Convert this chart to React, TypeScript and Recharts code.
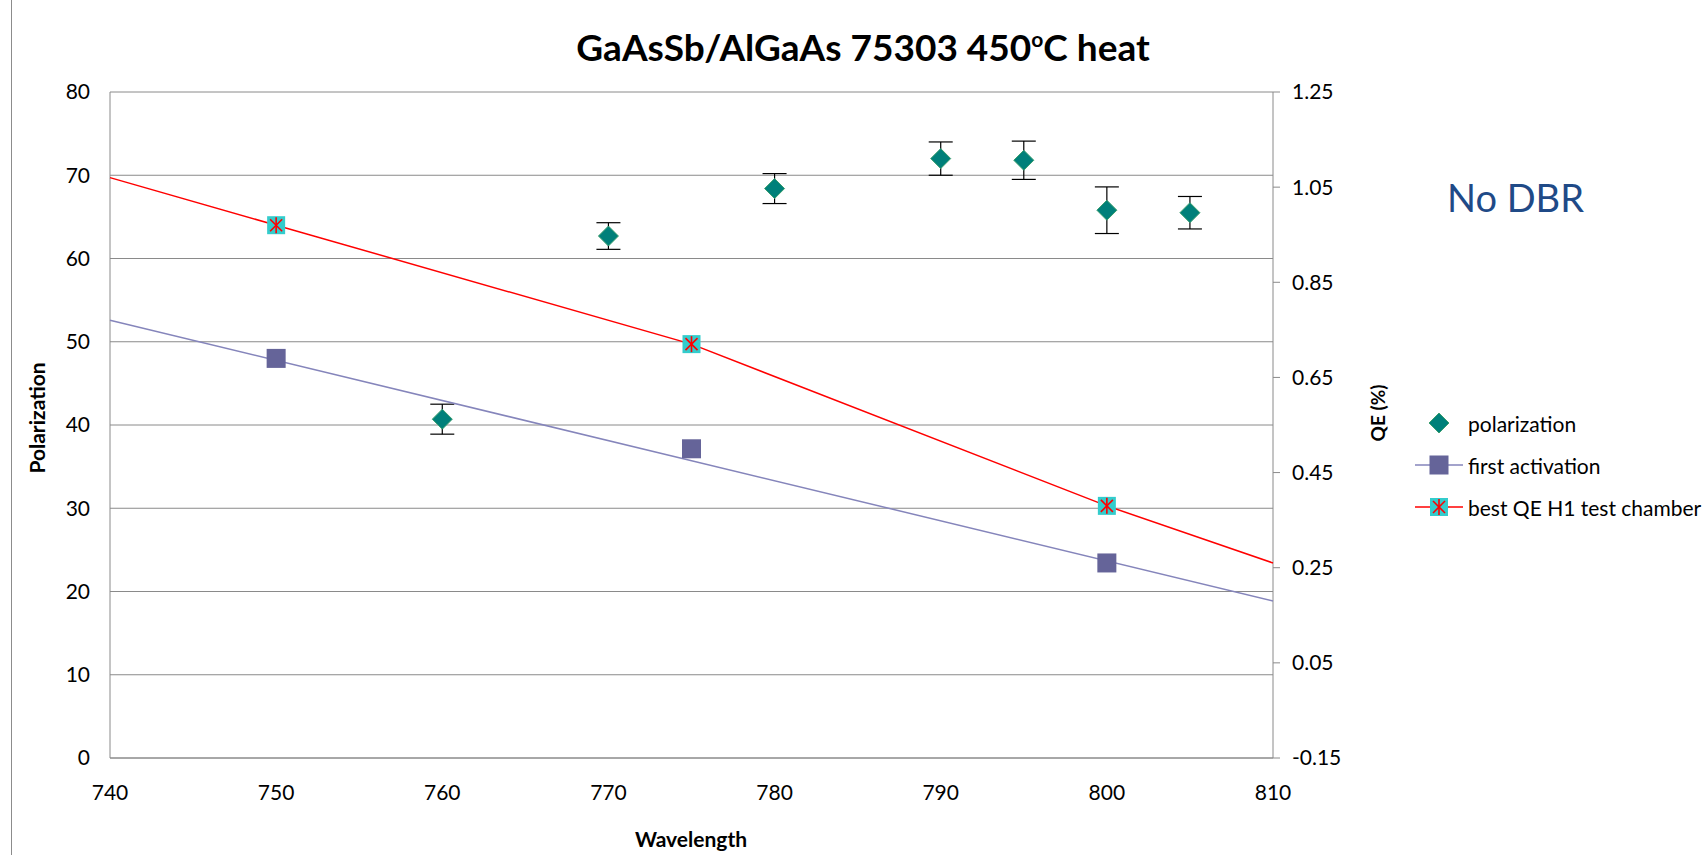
import React from 'react';
import { ComposedChart, Scatter, XAxis, YAxis, CartesianGrid, ErrorBar } from 'recharts';

// axis ticks
const wavelengthTicks = [740, 750, 760, 770, 780, 790, 800, 810];
const polarizationTicks = [0, 10, 20, 30, 40, 50, 60, 70, 80];
const qeTicks = [-0.15, 0.05, 0.25, 0.45, 0.65, 0.85, 1.05, 1.25];

// polarization measurements (left axis)
const polWavelength = [760, 770, 780, 790, 795, 800, 805];
const polarization = [40.7, 62.7, 68.4, 72.0, 71.8, 65.8, 65.5];
const polError = [1.8, 1.6, 1.8, 2.0, 2.3, 2.8, 1.95];

// QE measurements (right axis)
const qeWavelength = [750, 775, 800];
const firstActivation = [0.69, 0.5, 0.26];
const bestQE = [0.97, 0.72, 0.38];

// line values at the ends of the wavelength range (740, 810)
const firstTrendEnds = [0.77, 0.18];
const bestQEEnds = [1.07, 0.26];

const polData = polWavelength.map((x, i) => ({ x, y: polarization[i], err: polError[i] }));
const firstData = qeWavelength.map((x, i) => ({ x, y: firstActivation[i] }));
const bestData = qeWavelength.map((x, i) => ({ x, y: bestQE[i] }));
const firstTrend = [
  { x: 740, y: firstTrendEnds[0] },
  { x: 810, y: firstTrendEnds[1] },
];
const bestLine = [{ x: 740, y: bestQEEnds[0] }, ...bestData, { x: 810, y: bestQEEnds[1] }];

const FONT = 'Lato, "Liberation Sans", sans-serif';
const TEAL = '#00807a';
const PURPLE = '#656499';
const TREND = '#8585bb';
const RED = '#ff0000';
const CYAN = '#33cccc';

const Diamond = ({ cx, cy }: any) => (
  <path
    d={`M${cx},${cy - 10} L${cx + 10},${cy} L${cx},${cy + 10} L${cx - 10},${cy} Z`}
    fill={TEAL}
    stroke="#3a9e6e"
    strokeWidth={1}
  />
);

const Square = ({ cx, cy }: any) => (
  <rect x={cx - 9.5} y={cy - 9.5} width={19} height={19} fill={PURPLE} />
);

const StarBox = ({ cx, cy }: any) => (
  <g>
    <rect x={cx - 9} y={cy - 9} width={18} height={18} fill={CYAN} />
    <g stroke={RED} strokeWidth={1.6}>
      <line x1={cx - 6} y1={cy - 6} x2={cx + 6} y2={cy + 6} />
      <line x1={cx + 6} y1={cy - 6} x2={cx - 6} y2={cy + 6} />
      <line x1={cx} y1={cy - 8} x2={cx} y2={cy + 8} />
    </g>
  </g>
);

const NoMarker = () => <g />;

const legendItems = [
  { name: 'polarization', line: null, Marker: Diamond },
  { name: 'first activation', line: TREND, Marker: Square },
  { name: 'best QE H1 test chamber', line: RED, Marker: StarBox },
];
const legendRows = [423, 465, 507];

const axisTitle: React.CSSProperties = {
  position: 'absolute',
  fontWeight: 700,
  whiteSpace: 'nowrap',
  color: '#000',
};

const App: React.FC = () => {
  return (
    <div
      style={{
        position: 'absolute',
        left: 0,
        top: 0,
        width: 1708,
        height: 855,
        background: '#fff',
        overflow: 'hidden',
        fontFamily: FONT,
      }}
    >
      <div style={{ position: 'absolute', left: 11, top: 0, width: 0, height: 855, borderLeft: '1px solid #8c8c8c' }} />

      <ComposedChart
        width={1708}
        height={855}
        margin={{ top: 92, right: 335, bottom: 37, left: 10 }}
      >
        <CartesianGrid yAxisId="left" vertical={false} stroke="#8a8a8a" strokeWidth={1} />
        <XAxis
          type="number"
          dataKey="x"
          domain={[740, 810]}
          ticks={wavelengthTicks}
          interval={0}
          height={60}
          axisLine={{ stroke: '#8a8a8a' }}
          tickLine={false}
          tickSize={0}
          tickMargin={27}
          tick={{ fill: '#000', fontSize: 21, fontFamily: FONT }}
        />
        <YAxis
          yAxisId="left"
          type="number"
          dataKey="y"
          domain={[0, 80]}
          ticks={polarizationTicks}
          interval={0}
          width={100}
          axisLine={{ stroke: '#8a8a8a' }}
          tickLine={false}
          tickSize={0}
          tickMargin={20}
          tick={{ fill: '#000', fontSize: 21, fontFamily: FONT }}
        />
        <YAxis
          yAxisId="right"
          orientation="right"
          type="number"
          dataKey="y"
          domain={[-0.15, 1.25]}
          allowDataOverflow
          ticks={qeTicks}
          interval={0}
          width={100}
          axisLine={{ stroke: '#8a8a8a' }}
          tickLine={{ stroke: '#8a8a8a' }}
          tickSize={7}
          tickMargin={12}
          tickFormatter={(v: number) => v.toFixed(2)}
          tick={{ fill: '#000', fontSize: 21, fontFamily: FONT }}
        />

        <Scatter
          yAxisId="right"
          data={firstTrend}
          line={{ stroke: TREND, strokeWidth: 1.5 }}
          shape={NoMarker}
          isAnimationActive={false}
        />
        <Scatter
          yAxisId="right"
          data={bestLine}
          line={{ stroke: RED, strokeWidth: 1.5 }}
          shape={NoMarker}
          isAnimationActive={false}
        />
        <Scatter yAxisId="left" data={polData} shape={Diamond} isAnimationActive={false}>
          <ErrorBar dataKey="err" direction="y" width={12} stroke="#000" strokeWidth={1.2} />
        </Scatter>
        <Scatter yAxisId="right" data={firstData} shape={Square} isAnimationActive={false} />
        <Scatter yAxisId="right" data={bestData} shape={StarBox} isAnimationActive={false} />
      </ComposedChart>

      <div
        style={{
          ...axisTitle,
          left: 863,
          top: 46,
          transform: 'translate(-50%, -50%)',
          fontSize: 37,
        }}
      >
        GaAsSb/AlGaAs 75303 450
        <span style={{ fontSize: 21, position: 'relative', top: -14 }}>o</span>C heat
      </div>

      <div
        style={{
          position: 'absolute',
          left: 1447,
          top: 197,
          transform: 'translateY(-50%)',
          fontSize: 38,
          color: '#1f4a87',
          whiteSpace: 'nowrap',
        }}
      >
        No DBR
      </div>

      <div style={{ ...axisTitle, left: 36, top: 418, transform: 'translate(-50%, -50%) rotate(-90deg)', fontSize: 21 }}>
        Polarization
      </div>
      <div style={{ ...axisTitle, left: 1377, top: 413, transform: 'translate(-50%, -50%) rotate(-90deg)', fontSize: 19 }}>
        QE (%)
      </div>
      <div style={{ ...axisTitle, left: 691, top: 838, transform: 'translate(-50%, -50%)', fontSize: 21 }}>
        Wavelength
      </div>

      {legendItems.map((item, i) => {
        const cy = legendRows[i];
        return (
          <div
            key={item.name}
            style={{ position: 'absolute', left: 1413, top: cy - 14, height: 28, display: 'flex', alignItems: 'center' }}
          >
            <svg width={52} height={28} style={{ display: 'block' }}>
              {item.line && <line x1={2} y1={14} x2={50} y2={14} stroke={item.line} strokeWidth={1.5} />}
              <item.Marker cx={26} cy={14} />
            </svg>
            <span style={{ marginLeft: 3, fontSize: 21, whiteSpace: 'nowrap', color: '#000' }}>{item.name}</span>
          </div>
        );
      })}
    </div>
  );
};

export default App;
